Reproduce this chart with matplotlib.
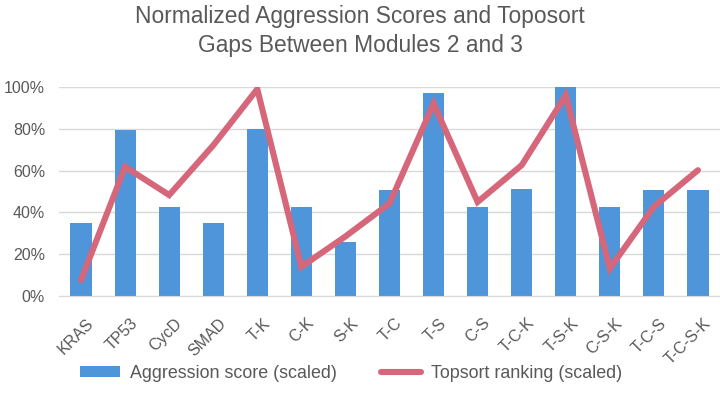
import matplotlib
matplotlib.use("Agg")
import matplotlib.pyplot as plt
import matplotlib.transforms as mtransforms
from matplotlib.ticker import PercentFormatter, MultipleLocator
from matplotlib.patches import Patch
from matplotlib.lines import Line2D

categories = ["KRAS", "TP53", "CycD", "SMAD", "T-K", "C-K", "S-K", "T-C", "T-S",
              "C-S", "T-C-K", "T-S-K", "C-S-K", "T-C-S", "T-C-S-K"]
aggression = [34.7, 79.6, 42.4, 34.7, 80.0, 42.7, 25.7, 50.6, 97.3,
              42.4, 51.4, 100.0, 42.7, 50.6, 50.6]
topsort = [7.6, 61.8, 48.3, 72.1, 99.0, 14.0, 28.5, 44.3, 92.0,
           45.0, 62.6, 96.0, 13.2, 42.7, 60.2]

BAR = "#4E95D9"
LINE = "#D6677B"
TXT = "#595959"
GRID = "#D9D9D9"

plt.rcParams["font.family"] = ["Liberation Sans", "DejaVu Sans"]

fig = plt.figure(figsize=(7.2, 4.09), dpi=100)
ax = fig.add_axes([59/720, 1-296/409, (720-59)/720, (296-87)/409])

x = list(range(len(categories)))
ax.bar(x, aggression, width=0.48, color=BAR, zorder=2)
ax.plot(x, topsort, color=LINE, lw=4.4, solid_capstyle="round",
        solid_joinstyle="miter", zorder=3)

ax.set_xlim(-0.5, len(categories) - 0.5)
ax.set_ylim(0, 100)
ax.yaxis.set_major_locator(MultipleLocator(20))
ax.yaxis.set_major_formatter(PercentFormatter(decimals=0))
ax.grid(axis="y", color=GRID, lw=1, zorder=0)
for s in ["top", "right", "left"]:
    ax.spines[s].set_visible(False)
ax.spines["bottom"].set_color(GRID)
ax.tick_params(axis="both", length=0, colors=TXT, labelsize=11.5)
ax.tick_params(axis="y", pad=10)
ax.set_xticks(x)
ax.set_xticklabels(categories, rotation=45, ha="right", rotation_mode="anchor")
ax.tick_params(axis="x", pad=14)
offset = mtransforms.ScaledTranslation(5/100, 0, fig.dpi_scale_trans)
for lab in ax.get_xticklabels():
    lab.set_transform(lab.get_transform() + offset)

fig.text(0.5, 1 - 31/409, "Normalized Aggression Scores and Toposort\nGaps Between Modules 2 and 3",
         ha="center", va="center", fontsize=16.4, color=TXT, linespacing=1.38)

handles = [Patch(facecolor=BAR, edgecolor="none"),
           Line2D([0], [0], color=LINE, lw=4.4, solid_capstyle="round")]
fig.legend(handles, ["Aggression score (scaled)", "Topsort ranking (scaled)"],
           loc="center", bbox_to_anchor=(351/720, 1 - 373/409), ncol=2, frameon=False,
           fontsize=12.9, labelcolor=TXT, handlelength=2.2, handleheight=0.55,
           columnspacing=2.5, handletextpad=0.55, borderpad=0)

fig.savefig("out.png", dpi=100, facecolor="white")
